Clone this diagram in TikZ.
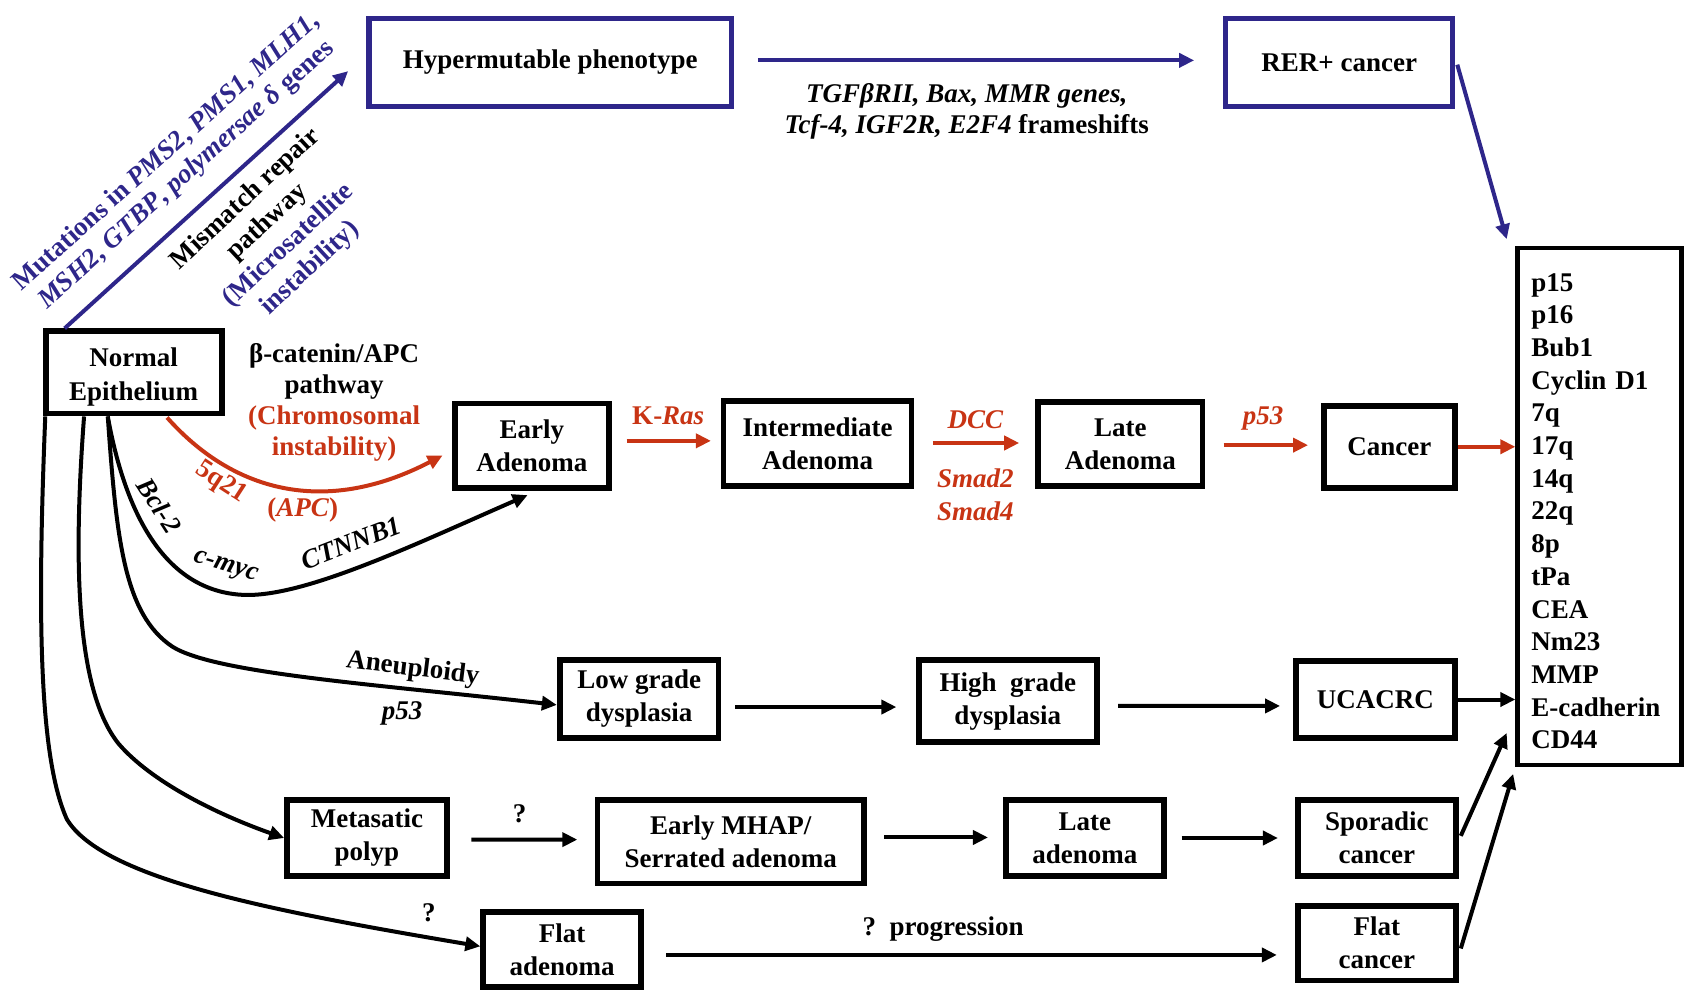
\documentclass[tikz,border=0pt]{standalone}
\usepackage{fontspec}
\setmainfont{Liberation Serif}
\usetikzlibrary{arrows.meta}
\definecolor{mblue}{RGB}{46,38,138}
\definecolor{mred}{RGB}{200,52,20}
\tikzset{
  every node/.style={font=\fontsize{27}{33}\selectfont\bfseries},
  box/.style={draw, line width=5.8pt, align=center, inner sep=0pt},
  bbox/.style={box, line width=5.2pt, draw=mblue},
  arr/.style={line width=4pt, -{Triangle[length=15pt,width=14pt]}},
  rarr/.style={arr, draw=mred, color=mred},
  barr/.style={arr, draw=mblue, color=mblue},
  lbl/.style={inner sep=0pt, align=center},
}
\begin{document}
\begin{tikzpicture}[x=1.0778pt, y=-1.0778pt]
\useasboundingbox (0,0) rectangle (1568,923);
% boxes
\node[bbox, minimum width=362.5pt, minimum height=87.7pt] (hyper) at (510.5,58) {Hypermutable phenotype};
\node[bbox, minimum width=226.7pt, minimum height=87.7pt] (rer) at (1242.5,58) {RER+ cancer};
\node[box, line width=4.8pt, minimum width=163.5pt, minimum height=517pt, align=left, text width=136pt, inner xsep=13.75pt, font=\fontsize{27}{32.7}\selectfont\bfseries] (markers) at (1484,470) {\\[-5.6pt]p15\\p16\\Bub1\\Cyclin D1\\7q\\17q\\14q\\22q\\8p\\tPa\\CEA\\Nm23\\MMP\\E-cadherin\\CD44};
\node[box, minimum width=176pt, minimum height=82.3pt, font=\fontsize{27}{34}\selectfont\bfseries] (normal) at (124,345.5) {\\[-6.9pt]Normal\\Epithelium};
\node[box, minimum width=153.4pt, minimum height=84.5pt] (early) at (493.5,413.5) {Early\\Adenoma};
\node[box, minimum width=188pt, minimum height=84.5pt] (inter) at (758.5,411.5) {Intermediate\\Adenoma};
\node[box, minimum width=164.2pt, minimum height=83.4pt] (late) at (1039.5,412) {Late\\Adenoma};
\node[box, minimum width=130.8pt, minimum height=82.3pt] (cancer) at (1289,414.5) {Cancer};
\node[box, minimum width=158.8pt, minimum height=78pt] (low) at (593,648.5) {Low grade\\dysplasia};
\node[box, minimum width=178.2pt, minimum height=82.3pt] (high) at (935,650.5) {High~ grade\\dysplasia};
\node[box, minimum width=158.8pt, minimum height=76.9pt] (ucacrc) at (1276,649) {UCACRC};
\node[box, minimum width=159.9pt, minimum height=75.8pt] (meta) at (340.5,777.5) {Metasatic\\polyp};
\node[box, minimum width=266.6pt, minimum height=83.4pt] (mhap) at (678,781) {Early MHAP/\\Serrated adenoma};
\node[box, minimum width=157.7pt, minimum height=75.8pt] (latead) at (1006.5,777.5) {Late\\adenoma};
\node[box, minimum width=157.7pt, minimum height=75.8pt] (spor) at (1277.5,777.5) {Sporadic\\cancer};
\node[box, minimum width=157.7pt, minimum height=74.8pt] (flatad) at (521.5,881) {Flat\\adenoma};
\node[box, minimum width=157.7pt, minimum height=74.8pt] (flatca) at (1277.5,875) {Flat\\cancer};
% blue connectors
\coordinate (mmrtip) at (323,66);
\draw[barr] ([shift={(-64,0)}]normal.north) -- (mmrtip);
\draw[barr] ([shift={(22,-2)}]hyper.east) -- ([shift={(-27,-2)}]rer.west);
\draw[barr] ([shift={(2,2)}]rer.east) -- ([shift={(-8,-6)}]markers.north west);
% red pathway
\draw[rarr] ([shift={(31,1)}]normal.south) .. controls (215,455) and (300,480) .. ([shift={(-9,9)}]early.west);
\draw[rarr] ([shift={(14,-4.5)}]early.east) -- ([shift={(-9,-2.5)}]inter.west);
\draw[rarr] ([shift={(17,-0.5)}]inter.east) -- ([shift={(-15,-1)}]late.west);
\draw[rarr] ([shift={(17,1)}]late.east) -- ([shift={(-12,-1.5)}]cancer.west);
\draw[rarr] (cancer.east) -- (cancer.east -| markers.west);
% black curves from normal epithelium
\draw[arr] ([shift={(-24,0)}]normal.south) .. controls (115,470) and (150,550) .. (228,552) .. controls (285,553) and (385,505) .. ([shift={(-4,4)}]early.south);
\draw[arr] ([shift={(-24,0)}]normal.south) .. controls (108,500) and (115,570) .. (160,600) .. controls (200,625) and (350,635) .. ([shift={(0,5.5)}]low.west);
\draw[arr] ([shift={(-46,0)}]normal.south) .. controls (68,520) and (70,640) .. (110,690) .. controls (140,725) and (200,755) .. (meta.west);
\draw[arr] ([shift={(-82,0)}]normal.south) .. controls (35,560) and (35,700) .. (62,760) .. controls (95,815) and (250,845) .. ([shift={(0,-3)}]flatad.west);
% straight black arrows
\draw[arr] ([shift={(13,7.5)}]low.east) -- ([shift={(-18,5.5)}]high.west);
\draw[arr] ([shift={(17,4.5)}]high.east) -- ([shift={(-12,6)}]ucacrc.west);
\draw[arr] (ucacrc.east) -- (ucacrc.east -| markers.west);
\draw[arr] ([shift={(20,1.5)}]meta.east) -- ([shift={(-16,-2)}]mhap.west);
\draw[arr] ([shift={(16,-4)}]mhap.east) -- ([shift={(-14,-0.5)}]latead.west);
\draw[arr] ([shift={(14,0)}]latead.east) -- ([shift={(-16,0)}]spor.west);
\draw[arr] ([shift={(2,-2)}]spor.east) -- ([shift={(-8,-32)}]markers.south west);
\draw[arr] ([shift={(21,5)}]flatad.east) -- ([shift={(-17,11)}]flatca.west);
\draw[arr] ([shift={(2,5)}]flatca.east) -- ([shift={(-2,6)}]markers.south west);
% labels
\node[lbl, rotate=42, text=mblue, font=\fontsize{27}{30}\selectfont\bfseries] (lblmut) at (164,152) {Mutations in \textit{PMS2}, \textit{PMS1}, \textit{MLH1},\\\textit{MSH2}, \textit{GTBP}, \textit{polymersae δ} genes};
\node[lbl, rotate=43, font=\fontsize{27}{31.5}\selectfont\bfseries] (lblmmr) at (258,217) {Mismatch repair\\pathway\\\textcolor{mblue}{(Microsatellite}\\\textcolor{mblue}{instability)}};
\node[lbl, font=\fontsize{27}{31}\selectfont\bfseries] (lbltgf) at (897,103) {\textit{TGFβRII, Bax, MMR genes,}\\\textit{Tcf-4, IGF2R, E2F4} frameshifts};
\node[lbl, font=\fontsize{27}{31}\selectfont\bfseries] (lblcat) at (310,373) {β-catenin/APC\\pathway\\\textcolor{mred}{(Chromosomal}\\\textcolor{mred}{instability)}};
\node[lbl, text=mred, rotate=-33] (lbl5q) at (205,448) {5q21};
\node[lbl, text=mred] (lblapc) at (281,473) {(\textit{APC})};
\node[lbl, rotate=-57] (lblbcl) at (148,469) {\textit{Bcl-2}};
\node[lbl, rotate=-17] (lblmyc) at (209,527) {\textit{c-myc}};
\node[lbl, rotate=21] (lblctn) at (326,504) {\textit{CTNNB1}};
\node[lbl, text=mred] (lblkras) at (620,386) {K-\textit{Ras}};
\node[lbl, text=mred] (lbldcc) at (905,389) {\textit{DCC}};
\node[lbl, text=mred, font=\fontsize{27}{33.4}\selectfont\bfseries] (lblsmad) at (905,459) {\textit{Smad2}\\\textit{Smad4}};
\node[lbl, text=mred] (lblp53r) at (1172,388) {\textit{p53}};
\node[lbl, rotate=-7] (lblaneu) at (383,621) {Aneuploidy};
\node[lbl] (lblp53) at (373,662) {\textit{p53}};
\node[lbl] (lblq1) at (482,755) {?};
\node[lbl] (lblq2) at (398,847) {?};
\node[lbl] (lblprog) at (875,862) {?\enspace progression};
\end{tikzpicture}
\end{document}
